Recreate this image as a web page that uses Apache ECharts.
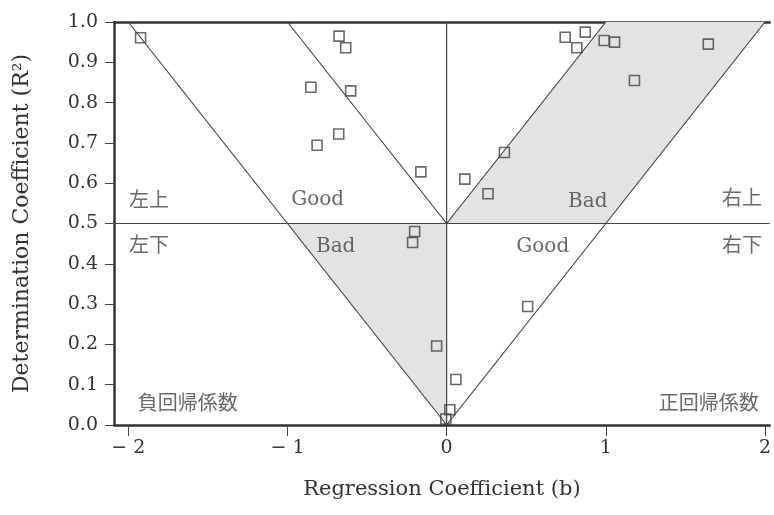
<!DOCTYPE html>
<html>
<head>
<meta charset="utf-8">
<script src="https://cdn.jsdelivr.net/npm/echarts@6/dist/echarts.min.js"></script>
<style>
html,body{margin:0;padding:0;background:#fff;}
#chart{width:774px;height:515px;}
</style>
</head>
<body>
<div id="chart"></div>
<script>
// ---- data ----
const xTicks = [-2, -1, 0, 1, 2];
const yTicks = [0, 0.1, 0.2, 0.3, 0.4, 0.5, 0.6, 0.7, 0.8, 0.9, 1.0];
const X_MIN = -2.09, X_MAX = 2.03;

// regression coefficient (b) and determination coefficient (R^2) of each point
const bValues  = [-1.923, -0.676, -0.634, -0.853, -0.603, -0.678, -0.814, -0.162, 0.114, 0.26, -0.201, -0.214, 0.509, -0.063, 0.058, 0.02, -0.005, 0.745, 0.871, 0.818, 0.99, 1.055, 1.644, 1.18, 0.363];
const r2Values = [0.961, 0.965, 0.936, 0.838, 0.829, 0.722, 0.694, 0.628, 0.61, 0.574, 0.48, 0.453, 0.294, 0.196, 0.113, 0.038, 0.015, 0.962, 0.975, 0.936, 0.954, 0.95, 0.945, 0.855, 0.676];

// guide lines
const lineNeg   = [[-2, 1], [0, 0]];
const lineV     = [[-1, 1], [0, 0.5], [1, 1]];
const linePos   = [[0, 0], [2, 1]];
const lineZero  = [[0, 0], [0, 1]];
const lineHalf  = [[X_MIN, 0.5], [X_MAX, 0.5]];

// shaded "Bad" regions
const shadeLowerLeft  = [[-1, 0.5], [0, 0.5], [0, 0]];
const shadeUpperRight = [[0, 0.5], [1, 1], [2, 1], [1, 0.5]];
const shadePolygons = [shadeLowerLeft, shadeUpperRight];

// annotation texts
const annoTexts = ['左上', 'Good', 'Bad', '右上', '左下', 'Bad', 'Good', '右下', '負回帰係数', '正回帰係数'];
const annoX     = [-1.87, -0.81, 0.887, 1.855, -1.87, -0.697, 0.604, 1.855, -1.626, 1.647];
const annoY     = [0.555, 0.558, 0.555, 0.558, 0.441, 0.441, 0.441, 0.441, 0.05, 0.05];

const SERIF = "'DejaVu Serif', 'Noto Sans CJK JP', serif";
const LINE_COLOR = '#444';

function guide(data) {
  return {
    type: 'line', data: data, symbol: 'none', silent: true, z: 3,
    lineStyle: { color: LINE_COLOR, width: 1.2 }, animation: false
  };
}

const chart = echarts.init(document.getElementById('chart'), null, { renderer: 'canvas' });
chart.setOption({
  backgroundColor: '#fff',
  animation: false,
  grid: { left: 114, right: 4, top: 22, bottom: 90, containLabel: false },
  xAxis: [{
    type: 'value', min: X_MIN, max: X_MAX,
    name: 'Regression Coefficient (b)', nameLocation: 'middle', nameGap: 54,
    nameTextStyle: { fontFamily: SERIF, fontSize: 21, color: '#333' },
    axisLine: { show: true, onZero: false, lineStyle: { color: '#333', width: 2.5 } },
    axisTick: { show: true, customValues: xTicks, length: 11, lineStyle: { color: LINE_COLOR, width: 1 } },
    axisLabel: {
      customValues: xTicks, margin: 14, fontFamily: SERIF, fontSize: 19, color: '#333',
      formatter: v => v < 0 ? '− ' + (-v) : String(v)
    },
    splitLine: { show: false }
  }, {
    type: 'value', min: X_MIN, max: X_MAX, position: 'top',
    axisLine: { show: true, onZero: false, lineStyle: { color: '#333', width: 2.5 } },
    axisTick: { show: false }, axisLabel: { show: false }, splitLine: { show: false }
  }],
  yAxis: {
    type: 'value', min: 0, max: 1, interval: 0.1,
    name: 'Determination Coefficient (R²)', nameLocation: 'middle', nameGap: 81, nameRotate: 90,
    nameTextStyle: { fontFamily: SERIF, fontSize: 22, color: '#333' },
    axisLine: { show: true, onZero: false, lineStyle: { color: '#333', width: 2.5 } },
    axisTick: { show: true, length: 9, lineStyle: { color: LINE_COLOR, width: 1 } },
    axisLabel: { margin: 16, fontFamily: SERIF, fontSize: 19, color: '#333', formatter: v => v.toFixed(1) },
    splitLine: { show: false }
  },
  series: [
    {
      type: 'custom', z: 1, silent: true,
      data: shadePolygons.map(p => p[0]),
      renderItem: function (params, api) {
        const poly = shadePolygons[params.dataIndex];
        return {
          type: 'polygon',
          shape: { points: poly.map(p => api.coord(p)) },
          style: { fill: '#e3e3e3', stroke: null }
        };
      }
    },
    guide(lineNeg), guide(lineV), guide(linePos), guide(lineZero), guide(lineHalf),
    {
      type: 'scatter', z: 5, symbol: 'rect', symbolSize: 10,
      data: bValues.map((b, i) => [b, r2Values[i]]),
      itemStyle: { color: 'rgba(0,0,0,0)', borderColor: '#444', borderWidth: 1.6 }
    },
    {
      type: 'scatter', z: 6, symbolSize: 0, silent: true,
      data: annoTexts.map((t, i) => ({ value: [annoX[i], annoY[i]], name: t })),
      label: {
        show: true, position: 'inside', formatter: p => p.name,
        fontFamily: SERIF, fontSize: 20, color: '#444'
      }
    }
  ]
});
</script>
</body>
</html>
